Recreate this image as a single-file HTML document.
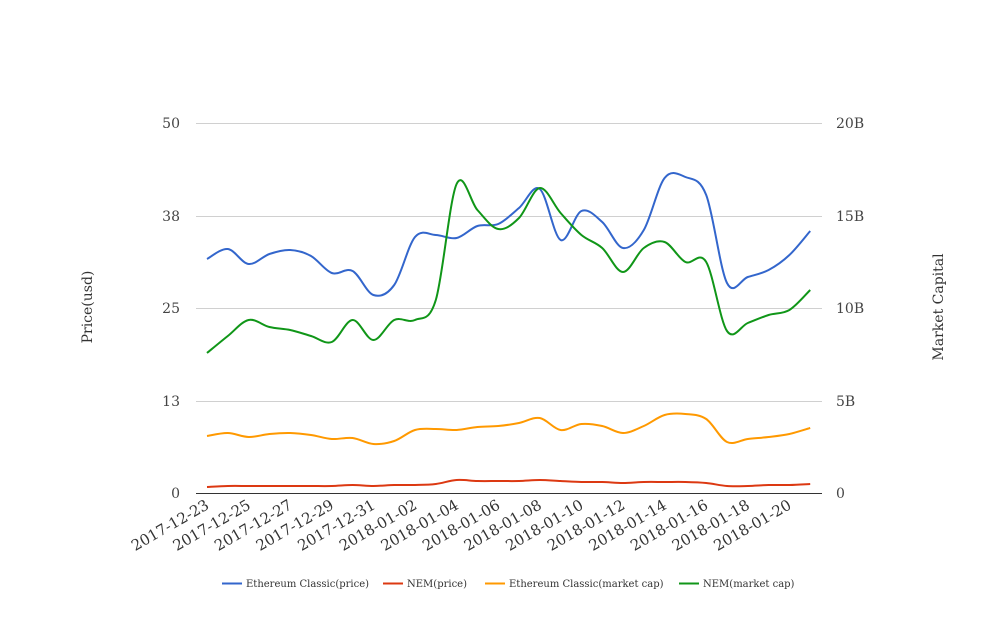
<!DOCTYPE html>
<html><head><meta charset="utf-8"><style>
body{margin:0;background:#fff}
svg{font-family:"DejaVu Serif","Liberation Serif",serif}
</style></head><body>
<svg id="c" width="1008" height="616" xmlns="http://www.w3.org/2000/svg">
<g stroke="#d0d0d0" stroke-width="1">
<line x1="196" y1="123.5" x2="822" y2="123.5"/>
<line x1="196" y1="216.5" x2="822" y2="216.5"/>
<line x1="196" y1="308.5" x2="822" y2="308.5"/>
<line x1="196" y1="401.5" x2="822" y2="401.5"/>
</g>
<line x1="196" y1="493.5" x2="822" y2="493.5" stroke="#333"/>
<g font-size="14" fill="#444" text-anchor="end">
<text x="180" y="128">50</text><text x="180" y="221">38</text><text x="180" y="313">25</text><text x="180" y="406">13</text><text x="180" y="498">0</text>
</g>
<g font-size="14" fill="#444" text-anchor="start">
<text x="836" y="128">20B</text><text x="836" y="221">15B</text><text x="836" y="313">10B</text><text x="836" y="406">5B</text><text x="836" y="498">0</text>
</g>
<text font-size="14" fill="#333" text-anchor="middle" transform="translate(92,307) rotate(-90)">Price(usd)</text>
<text font-size="14" fill="#333" text-anchor="middle" transform="translate(943,307) rotate(-90)">Market Capital</text>
<g id="xl" font-size="15" fill="#333" text-anchor="end"></g>
<g id="lines" fill="none" stroke-width="2"></g>
<g font-size="10" fill="#333">
<line x1="222" y1="583.5" x2="242" y2="583.5" stroke="#3366cc" stroke-width="2"/><text x="246" y="587">Ethereum Classic(price)</text>
<line x1="383" y1="583.5" x2="403" y2="583.5" stroke="#dc3912" stroke-width="2"/><text x="407" y="587">NEM(price)</text>
<line x1="485" y1="583.5" x2="505" y2="583.5" stroke="#ff9900" stroke-width="2"/><text x="509" y="587">Ethereum Classic(market cap)</text>
<line x1="679" y1="583.5" x2="699" y2="583.5" stroke="#109618" stroke-width="2"/><text x="703" y="587">NEM(market cap)</text>
</g>
</svg>
<script>
var ns="http://www.w3.org/2000/svg";
var dates=["2017-12-23","2017-12-25","2017-12-27","2017-12-29","2017-12-31","2018-01-02","2018-01-04","2018-01-06","2018-01-08","2018-01-10","2018-01-12","2018-01-14","2018-01-16","2018-01-18","2018-01-20"];
var xl=document.getElementById("xl");
dates.forEach(function(d,i){var x=207+41.6*i;var t=document.createElementNS(ns,"text");
t.setAttribute("transform","translate("+(x+3)+",508) rotate(-30)");t.textContent=d;xl.appendChild(t);});
var S={
"#3366cc":[259,249,264,254,250,256,273,271,295,285,237,235,238,226,224,208,189,240,211,222,248,230,178,177,195,283,277,270,255,231],
"#dc3912":[487,486,486,486,486,486,486,485,486,485,485,484,480,481,481,481,480,481,482,482,483,482,482,482,483,486,486,485,485,484],
"#ff9900":[436,433,437,434,433,435,439,438,444,441,430,429,430,427,426,423,418,430,424,426,433,426,415,414,419,442,439,437,434,428],
"#109618":[353,336,320,327,330,336,342,320,340,320,320,300,184,210,229,218,188,213,235,248,272,248,242,262,262,331,323,315,310,290]};
var g=document.getElementById("lines");
for(var c in S){var y=S[c],p=[];for(var i=0;i<y.length;i++)p.push([207+20.8*i,y[i]]);
var d="M"+p[0][0]+","+p[0][1];
for(var i=0;i<p.length-1;i++){var a=p[Math.max(i-1,0)],b=p[i],e=p[i+1],f=p[Math.min(i+2,p.length-1)];
var k=6;d+="C"+(b[0]+(e[0]-a[0])/k)+","+(b[1]+(e[1]-a[1])/k)+" "+(e[0]-(f[0]-b[0])/k)+","+(e[1]-(f[1]-b[1])/k)+" "+e[0]+","+e[1];}
var pa=document.createElementNS(ns,"path");pa.setAttribute("d",d);pa.setAttribute("stroke",c);g.appendChild(pa);}
</script>
</body></html>
